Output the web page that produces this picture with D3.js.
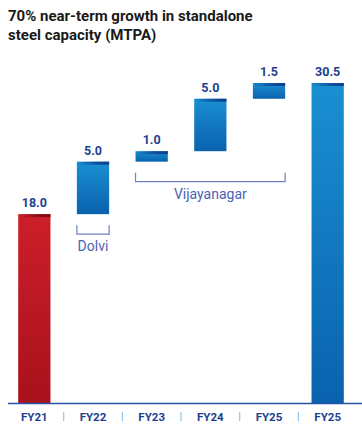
<!DOCTYPE html>
<html>
<head>
<meta charset="utf-8">
<script src="https://cdn.jsdelivr.net/npm/d3@7"></script>
<style>
  body { margin: 0; background: #fff; }
  svg { display: block; font-family: Roboto, "DejaVu Sans", sans-serif; }
</style>
</head>
<body>
<div id="chart"></div>
<script>
// Chart data
const categories = ["FY21", "FY22", "FY23", "FY24", "FY25", "FY25"];
const values = [18.0, 5.0, 1.0, 5.0, 1.5, 30.5];
const kinds = ["start", "step", "step", "step", "step", "total"];
const groups = [
    { name: "Dolvi", from: 1, to: 1 },
    { name: "Vijayanagar", from: 2, to: 4 }
];

const width = 362, height = 432;
const baseY = 403;

const svg = d3.select("#chart").append("svg")
    .attr("width", width)
    .attr("height", height);

const defs = svg.append("defs");

function vGrad(id, top, bottom) {
    const g = defs.append("linearGradient").attr("id", id)
        .attr("x1", 0).attr("y1", 0).attr("x2", 0).attr("y2", 1);
    g.append("stop").attr("offset", "0%").attr("stop-color", top);
    g.append("stop").attr("offset", "100%").attr("stop-color", bottom);
}
vGrad("redGrad", "#cc1f2b", "#a8111b");
vGrad("blueGrad", "#1a8fd2", "#0a62ae");

function hGrad(id, color) {
    const g = defs.append("linearGradient").attr("id", id)
        .attr("x1", 0).attr("y1", 0).attr("x2", 1).attr("y2", 0);
    g.append("stop").attr("offset", "0%").attr("stop-color", color).attr("stop-opacity", 0);
    g.append("stop").attr("offset", "60%").attr("stop-color", color).attr("stop-opacity", 0.8);
    g.append("stop").attr("offset", "100%").attr("stop-color", color).attr("stop-opacity", 1);
}
hGrad("redCap", "#7e0a12");
hGrad("blueCap", "#0c3f8e");

// Title
const title = svg.append("text")
    .attr("x", 8)
    .attr("y", 21)
    .attr("fill", "#1a1a1a")
    .style("font-size", "15px")
    .style("font-weight", "bold");
title.append("tspan").attr("x", 8).text("70% near-term growth in standalone");
title.append("tspan").attr("x", 8).attr("dy", 19).text("steel capacity (MTPA)");

// Scales
const x = d3.scaleBand()
    .domain(d3.range(categories.length))
    .range([5, 357])
    .paddingInner(0.45)
    .paddingOuter(0.225);

const y = d3.scaleLinear()
    .domain([0, 30.5])
    .range([baseY, 83]);

// Waterfall bounds
let running = 0;
const bars = values.map((v, i) => {
    let lo, hi;
    if (kinds[i] === "step") { lo = running; hi = running + v; running = hi; }
    else { lo = 0; hi = v; running = v; }
    return { i, v, lo, hi, kind: kinds[i] };
});

const barG = svg.append("g");
bars.forEach(d => {
    const isRed = d.kind === "start";
    const bx = x(d.i), bw = x.bandwidth();
    const top = y(d.hi), h = y(d.lo) - y(d.hi);
    barG.append("rect")
        .attr("x", bx).attr("y", top)
        .attr("width", bw).attr("height", h)
        .attr("fill", isRed ? "url(#redGrad)" : "url(#blueGrad)");
    barG.append("rect")
        .attr("x", bx).attr("y", top)
        .attr("width", bw).attr("height", 3)
        .attr("fill", isRed ? "url(#redCap)" : "url(#blueCap)");
    barG.append("text")
        .attr("x", bx + bw / 2)
        .attr("y", top - 7)
        .attr("text-anchor", "middle")
        .attr("fill", "#1d3f92")
        .style("font-size", "12.5px")
        .style("font-weight", "bold")
        .text(d.v.toFixed(1));
});

// Group brackets
groups.forEach(g => {
    const x0 = x(g.from), x1 = x(g.to) + x.bandwidth();
    const bottom = d3.max(bars.slice(g.from, g.to + 1), d => y(d.lo));
    const yTop = bottom + 11, yBot = yTop + 9;
    svg.append("path")
        .attr("d", `M${x0},${yTop}V${yBot}H${x1}V${yTop}`)
        .attr("fill", "none")
        .attr("stroke", "#6f82c4")
        .attr("stroke-width", 1.2);
    svg.append("text")
        .attr("x", (x0 + x1) / 2)
        .attr("y", yBot + 17)
        .attr("text-anchor", "middle")
        .attr("fill", "#4c63b4")
        .style("font-size", "14px")
        .text(g.name);
});

// Baseline axis
const axis = svg.append("g")
    .attr("transform", `translate(0,${baseY})`)
    .call(d3.axisBottom(x).tickSize(0).tickPadding(10).tickFormat(i => categories[i]));
axis.select(".domain").remove();
axis.selectAll("text")
    .attr("fill", "#1d3f92")
    .style("font-family", "Roboto, sans-serif")
    .style("font-size", "11.5px")
    .style("font-weight", "bold");

svg.append("line")
    .attr("x1", 8).attr("x2", 362)
    .attr("y1", baseY + 0.5).attr("y2", baseY + 0.5)
    .attr("stroke", "#2a52a8")
    .attr("stroke-width", 1.5);

// Separators between categories
svg.selectAll(".sep")
    .data(d3.range(1, categories.length))
    .join("line")
    .attr("class", "sep")
    .attr("x1", i => x(i) - x.step() * x.paddingInner() / 2)
    .attr("x2", i => x(i) - x.step() * x.paddingInner() / 2)
    .attr("y1", baseY + 9).attr("y2", baseY + 18)
    .attr("stroke", "#8cc8ec")
    .attr("stroke-width", 1.2);
</script>
</body>
</html>
